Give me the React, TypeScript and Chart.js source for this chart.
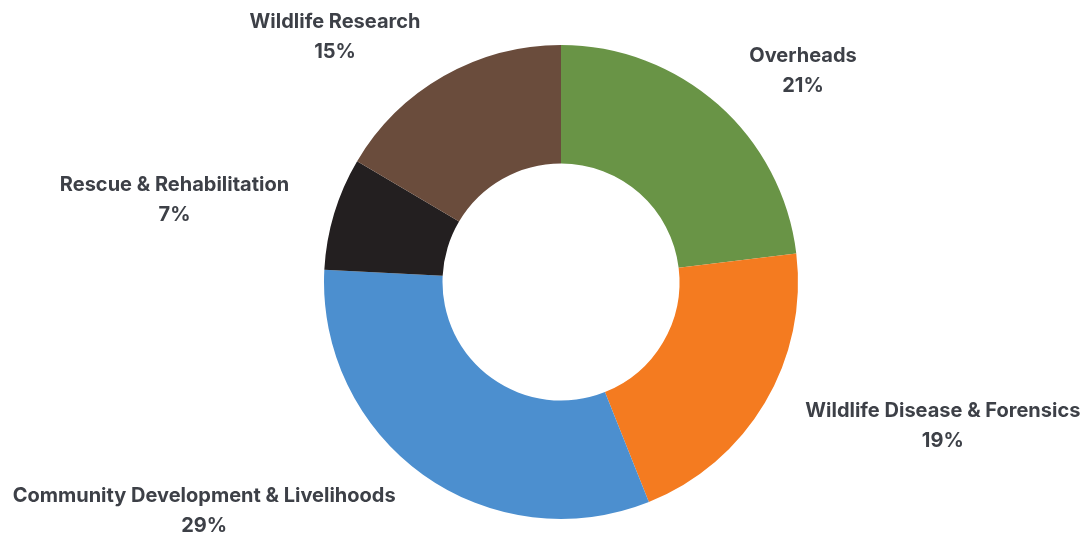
import React, { useEffect, useRef } from "react";
import { Chart, registerables } from "chart.js";

Chart.register(...registerables);

const categories = [
  "Overheads",
  "Wildlife Disease & Forensics",
  "Community Development & Livelihoods",
  "Rescue & Rehabilitation",
  "Wildlife Research",
];
const shares = [21, 19, 29, 7, 15];
const sliceColors = ["#699446", "#f47b20", "#4c8fcf", "#231f20", "#6a4c3c"];

const labelPlugin = {
  id: "sideLabels",
  afterDatasetsDraw(chart: any) {
    const meta = chart.getDatasetMeta(0);
    const ctx = chart.ctx;
    ctx.save();
    ctx.font = "bold 20px Inter, 'Noto Sans', sans-serif";
    ctx.fillStyle = "#3d4047";
    ctx.textBaseline = "middle";
    ctx.textAlign = "center";
    const lineGap = 30;
    meta.data.forEach((arc: any, i: number) => {
      const p = arc.getProps(["x", "y", "startAngle", "endAngle", "outerRadius"], true);
      const mid = (p.startAngle + p.endAngle) / 2;
      const rx = p.outerRadius + 47;
      const ry = p.outerRadius + 45;
      const ax = p.x + Math.cos(mid) * rx;
      const ay = p.y + Math.sin(mid) * ry;
      const l1 = categories[i];
      const l2 = shares[i] + "%";
      const w = Math.max(ctx.measureText(l1).width, ctx.measureText(l2).width);
      const cx = Math.cos(mid) >= 0 ? ax + w / 2 : ax - w / 2;
      ctx.fillText(l1, cx, ay - lineGap / 2);
      ctx.fillText(l2, cx, ay + lineGap / 2);
    });
    ctx.restore();
  },
};

export default function App() {
  const ref = useRef<HTMLCanvasElement | null>(null);
  useEffect(() => {
    if (!ref.current) return;
    const chart = new Chart(ref.current, {
      type: "doughnut",
      data: {
        labels: categories,
        datasets: [
          {
            data: shares,
            backgroundColor: sliceColors,
            borderWidth: 0,
          },
        ],
      },
      options: {
        animation: false,
        responsive: true,
        maintainAspectRatio: false,
        cutout: "50%",
        layout: { padding: { top: 45, bottom: 18, left: 324, right: 288 } },
        plugins: {
          legend: { display: false },
          tooltip: { enabled: false },
        },
      },
      plugins: [labelPlugin],
    });
    return () => chart.destroy();
  }, []);
  return (
    <div style={{ position: "fixed", left: 0, top: 0, width: 1086, height: 537, background: "#fff" }}>
      <canvas ref={ref} />
    </div>
  );
}
